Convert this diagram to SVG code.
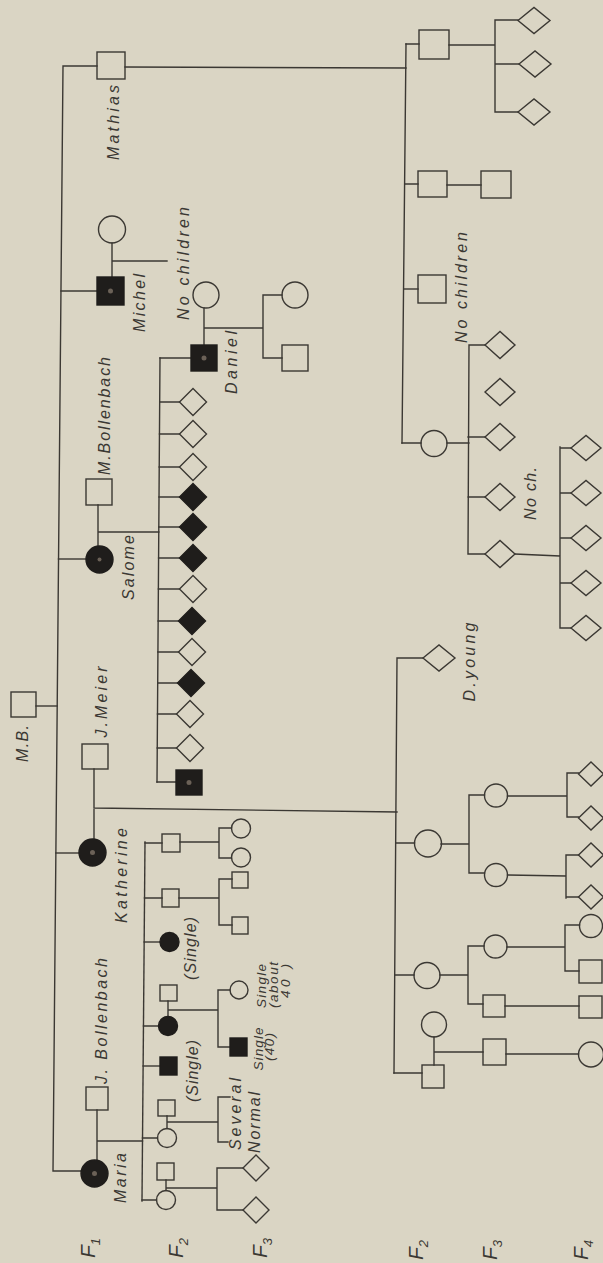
<svg xmlns="http://www.w3.org/2000/svg" xmlns:xlink="http://www.w3.org/1999/xlink" width="603" height="1263" viewBox="0 0 603 1263">
<style>
.ln{fill:none;stroke:#3b3833;stroke-width:1.4;stroke-linecap:square}
.o{fill:none;stroke:#3b3833;stroke-width:1.4}
.f{fill:#1f1d1b;stroke:#1f1d1b;stroke-width:1.4}
.dot{fill:#6b6157}
.t{font-family:"Liberation Sans",Arial,sans-serif;font-style:italic;font-size:16px;fill:#3b3833}
.s{font-size:13.5px}
.fl{font-family:"Liberation Sans",Arial,sans-serif;font-style:italic;font-size:21px;fill:#3b3833}
.sub{font-size:13px}
</style>
<defs>
<path id="dA" d="M-13.5,0L0,-13.5L13.5,0L0,13.5Z"/>
<path id="dB" d="M-16,0L0,-13L16,0L0,13Z"/>
<path id="dC" d="M-15,0L0,-13.5L15,0L0,13.5Z"/>
<path id="dD" d="M-15,0L0,-12.5L15,0L0,12.5Z"/>
<path id="dE" d="M-12.5,0L0,-12L12.5,0L0,12Z"/>
<path id="dF" d="M-13,0L0,-13L13,0L0,13Z"/>
</defs>
<rect width="603" height="1263" fill="#dad5c4"/>

<g id="connectors" class="ln">
<path d="M97,66H63L53,1171H81"/>
<path d="M61,291H97"/>
<path d="M58.5,559H86"/>
<path d="M36,706H57.2"/>
<path d="M55.9,853H79"/>
<path d="M125,67L406,68"/>
<path d="M406,44L402,443"/>
<path d="M406,44H419M449,45H495M495,20V112M495,20H518M495,64H519M495,112H518"/>
<path d="M405,184H418M447,185H481"/>
<path d="M404,289H418"/>
<path d="M402,443H421M447,443H469M469,345L468,554M469,345H485M468,437H485M468,497H485M468,554H485"/>
<path d="M515,554L560,556M560,447V628M560,448H571M560,493H571M560,538H571M560,583H571M560,628H571"/>
<path d="M112,243V277M112,261H167"/>
<path d="M98,505V546M98,532H158.8"/>
<path d="M160,358L157,782"/>
<path d="M160,358H191M159.7,402H179.5M159.5,434H179.5M159.2,467H179.5M159,497H179.5M158.8,527H179.5M158.6,558H179.5M158.4,589H179.5M158.1,621H178.5M157.9,652H178.5M157.7,683H177.5M157.5,714H176.5M157.2,748H176.5M157,782H176"/>
<path d="M204,308V345M204,328H263M263,295V358M263,295H282M263,358H282"/>
<path d="M94,769V839M94,808L397,812"/>
<path d="M397,658L394,1073M397,658H423"/>
<path d="M395.7,843H414.5M441,844H469M469,795V873M469,795H484.5M469,873H484.5"/>
<path d="M507.5,796H567M567,773V817M567,773H578.5M567,817H578.5"/>
<path d="M507.5,875L566,876M566,855V898M566,855H578.5M566,897H578.5"/>
<path d="M394.7,975H414M440,975H468M468,946V1004M468,946H484M468,1004H483"/>
<path d="M507,947H565M565,925V971M565,925H579.5M565,971H579"/>
<path d="M505,1006H579"/>
<path d="M394,1073H422M434,1037V1065M434,1052H483M506,1054H578.5"/>
<path d="M97,1110V1160M97,1141H142.5"/>
<path d="M145,842L142,1201"/>
<path d="M145,843H162M180,842H219M219,828V858M219,828H231.5M219,858H231.5"/>
<path d="M144.5,898H162M179,898H219M219,879V925M219,879H232M219,925H232"/>
<path d="M144.2,942H160"/>
<path d="M168,1001V1016.5M143.5,1026H158.5M168,1010H218M218,990V1047M218,990H230M218,1047H230"/>
<path d="M143.1,1066H160"/>
<path d="M167,1116V1128.5M142.5,1138H157.5M167,1122H218M230,1097H218V1142H228"/>
<path d="M166,1180V1190.5M142,1200H156.5M166,1188H217M217,1168V1210M217,1168H243M217,1210H243"/>
</g>

<g id="n_mb"><rect class="o" x="11" y="692" width="25" height="25"/></g>
<g id="n_mathias"><rect class="o" x="97" y="52" width="28" height="27"/></g>
<g id="n_michel"><rect class="f" x="97" y="277" width="27" height="28"/><circle class="dot" cx="110.5" cy="291" r="2.5"/></g>
<g id="n_michel_wife"><circle class="o" cx="112" cy="229.5" r="13.5"/></g>
<g id="n_salome"><circle class="f" cx="99.5" cy="559.5" r="13.5"/><circle class="dot" cx="99.5" cy="559.5" r="2"/></g>
<g id="n_m_bollenbach"><rect class="o" x="86" y="479" width="26" height="26"/></g>
<g id="n_katherine"><circle class="f" cx="92.5" cy="852.5" r="13.5"/><circle class="dot" cx="92.5" cy="852.5" r="2.5"/></g>
<g id="n_j_meier"><rect class="o" x="82" y="744" width="26" height="25"/></g>
<g id="n_maria"><circle class="f" cx="94.5" cy="1173.5" r="13.5"/><circle class="dot" cx="94.5" cy="1173.5" r="2.5"/></g>
<g id="n_j_bollenbach"><rect class="o" x="86" y="1087" width="22" height="23"/></g>

<g id="n_mc1"><rect class="o" x="419" y="30" width="30" height="29"/></g>
<g id="n_mc1_k1"><use href="#dB" x="534" y="20.5" class="o"/></g>
<g id="n_mc1_k2"><use href="#dB" x="535" y="64" class="o"/></g>
<g id="n_mc1_k3"><use href="#dB" x="534" y="112" class="o"/></g>
<g id="n_mc2"><rect class="o" x="418" y="171" width="29" height="26"/></g>
<g id="n_mc2_k"><rect class="o" x="481" y="171" width="30" height="27"/></g>
<g id="n_mc3"><rect class="o" x="418" y="275" width="28" height="28"/></g>
<g id="n_mc4"><circle class="o" cx="434" cy="443.5" r="13"/></g>
<g id="n_mc4_k1"><use href="#dC" x="500" y="345" class="o"/></g>
<g id="n_mc4_k2"><use href="#dC" x="500" y="392" class="o"/></g>
<g id="n_mc4_k3"><use href="#dC" x="500" y="437" class="o"/></g>
<g id="n_mc4_k4"><use href="#dC" x="500" y="497" class="o"/></g>
<g id="n_mc4_k5"><use href="#dC" x="500" y="554" class="o"/></g>
<g id="n_mc4_k5_1"><use href="#dD" x="586" y="448" class="o"/></g>
<g id="n_mc4_k5_2"><use href="#dD" x="586" y="493" class="o"/></g>
<g id="n_mc4_k5_3"><use href="#dD" x="586" y="538" class="o"/></g>
<g id="n_mc4_k5_4"><use href="#dD" x="586" y="583" class="o"/></g>
<g id="n_mc4_k5_5"><use href="#dD" x="586" y="628" class="o"/></g>

<g id="n_daniel"><rect class="f" x="191" y="345" width="26" height="26"/><circle class="dot" cx="204" cy="358" r="2.5"/></g>
<g id="n_daniel_wife"><circle class="o" cx="206" cy="295" r="13"/></g>
<g id="n_daniel_k1"><circle class="o" cx="295" cy="295" r="13"/></g>
<g id="n_daniel_k2"><rect class="o" x="282" y="345" width="26" height="26"/></g>

<g id="n_s2"><use href="#dA" x="193" y="402" class="o"/></g>
<g id="n_s3"><use href="#dA" x="193" y="434" class="o"/></g>
<g id="n_s4"><use href="#dA" x="193" y="467" class="o"/></g>
<g id="n_s5"><use href="#dA" x="193" y="497" class="f"/></g>
<g id="n_s6"><use href="#dA" x="193" y="527" class="f"/></g>
<g id="n_s7"><use href="#dA" x="193" y="558" class="f"/></g>
<g id="n_s8"><use href="#dA" x="193" y="589" class="o"/></g>
<g id="n_s9"><use href="#dA" x="192" y="621" class="f"/></g>
<g id="n_s10"><use href="#dA" x="192" y="652" class="o"/></g>
<g id="n_s11"><use href="#dA" x="191" y="683" class="f"/></g>
<g id="n_s12"><use href="#dA" x="190" y="714" class="o"/></g>
<g id="n_s13"><use href="#dA" x="190" y="748" class="o"/></g>
<g id="n_s14"><rect class="f" x="176" y="770" width="26" height="25"/><circle class="dot" cx="189" cy="782.5" r="2.5"/></g>

<g id="n_k1"><use href="#dB" x="439" y="658" class="o"/></g>
<g id="n_k2"><circle class="o" cx="428" cy="843.5" r="13.5"/></g>
<g id="n_k2_a"><circle class="o" cx="496" cy="795.5" r="11.5"/></g>
<g id="n_k2_a1"><use href="#dE" x="591" y="774" class="o"/></g>
<g id="n_k2_a2"><use href="#dE" x="591" y="818" class="o"/></g>
<g id="n_k2_b"><circle class="o" cx="496" cy="875" r="11.5"/></g>
<g id="n_k2_b1"><use href="#dE" x="591" y="855" class="o"/></g>
<g id="n_k2_b2"><use href="#dE" x="591" y="897" class="o"/></g>
<g id="n_k3"><circle class="o" cx="427" cy="975.5" r="13"/></g>
<g id="n_k3_a"><circle class="o" cx="495.5" cy="946.5" r="11.5"/></g>
<g id="n_k3_a1"><circle class="o" cx="591" cy="926" r="11.5"/></g>
<g id="n_k3_a2"><rect class="o" x="579" y="960" width="23" height="23"/></g>
<g id="n_k3_b"><rect class="o" x="483" y="995" width="22" height="22"/></g>
<g id="n_k3_b1"><rect class="o" x="579" y="996" width="23" height="22"/></g>
<g id="n_k4"><rect class="o" x="422" y="1065" width="22" height="23"/></g>
<g id="n_k4_wife"><circle class="o" cx="434" cy="1024.5" r="12.5"/></g>
<g id="n_k4_a"><rect class="o" x="483" y="1039" width="23" height="26"/></g>
<g id="n_k4_a1"><circle class="o" cx="591" cy="1054.5" r="12.5"/></g>

<g id="n_m1"><rect class="o" x="162" y="834" width="18" height="18"/></g>
<g id="n_m1_a"><circle class="o" cx="241" cy="828.5" r="9.5"/></g>
<g id="n_m1_b"><circle class="o" cx="241" cy="857.5" r="9.5"/></g>
<g id="n_m2"><rect class="o" x="162" y="889" width="17" height="18"/></g>
<g id="n_m2_a"><rect class="o" x="232" y="872" width="16" height="16"/></g>
<g id="n_m2_b"><rect class="o" x="232" y="917" width="16" height="17"/></g>
<g id="n_m3"><circle class="f" cx="169.5" cy="942" r="9.5"/></g>
<g id="n_m4_h"><rect class="o" x="160" y="985" width="17" height="16"/></g>
<g id="n_m4"><circle class="f" cx="168" cy="1026" r="9.5"/></g>
<g id="n_m4_a"><circle class="o" cx="239" cy="990" r="9"/></g>
<g id="n_m4_b"><rect class="f" x="230" y="1038" width="17" height="18"/></g>
<g id="n_m5"><rect class="f" x="160" y="1057" width="17" height="18"/></g>
<g id="n_m6_h"><rect class="o" x="158" y="1100" width="17" height="16"/></g>
<g id="n_m6"><circle class="o" cx="167" cy="1138" r="9.5"/></g>
<g id="n_m7_h"><rect class="o" x="157" y="1163" width="17" height="17"/></g>
<g id="n_m7"><circle class="o" cx="166" cy="1200" r="9.5"/></g>
<g id="n_m7_a"><use href="#dF" x="256" y="1168" class="o"/></g>
<g id="n_m7_b"><use href="#dF" x="256" y="1210" class="o"/></g>

<g id="labels">
<text class="t" text-anchor="middle" textLength="75" lengthAdjust="spacing" transform="translate(119,122.5) rotate(-90)">Mathias</text>
<text class="t" text-anchor="middle" textLength="58" lengthAdjust="spacing" transform="translate(145,303) rotate(-90)">Michel</text>
<text class="t" text-anchor="middle" textLength="113" lengthAdjust="spacing" transform="translate(189,263.5) rotate(-90)">No children</text>
<text class="t" text-anchor="middle" textLength="111" lengthAdjust="spacing" transform="translate(467,287.5) rotate(-90)">No children</text>
<text class="t" text-anchor="middle" textLength="118" lengthAdjust="spacing" transform="translate(110,416) rotate(-90)">M.Bollenbach</text>
<text class="t" text-anchor="middle" textLength="65" lengthAdjust="spacing" transform="translate(134,567.5) rotate(-90)">Salome</text>
<text class="t" text-anchor="middle" textLength="63" lengthAdjust="spacing" transform="translate(237,362.5) rotate(-90)">Daniel</text>
<text class="t" text-anchor="middle" textLength="37" lengthAdjust="spacing" transform="translate(28,743.5) rotate(-90)">M.B.</text>
<text class="t" text-anchor="middle" textLength="71" lengthAdjust="spacing" transform="translate(107,702) rotate(-90)">J.Meier</text>
<text class="t" text-anchor="middle" textLength="95" lengthAdjust="spacing" transform="translate(127,875.5) rotate(-90)">Katherine</text>
<text class="t" text-anchor="middle" textLength="63" lengthAdjust="spacing" transform="translate(196,948.5) rotate(-90)">(Single)</text>
<text class="t s" text-anchor="middle" textLength="44" lengthAdjust="spacing" transform="translate(266,986) rotate(-90)">Single</text>
<text class="t s" text-anchor="middle" textLength="46" lengthAdjust="spacing" transform="translate(278,985) rotate(-90)">(about</text>
<text class="t s" text-anchor="middle" textLength="34" lengthAdjust="spacing" transform="translate(290,981) rotate(-90)">40 )</text>
<text class="t s" text-anchor="middle" textLength="43" lengthAdjust="spacing" transform="translate(263,1049) rotate(-90)">Single</text>
<text class="t s" text-anchor="middle" textLength="28" lengthAdjust="spacing" transform="translate(274,1047) rotate(-90)">(40)</text>
<text class="t" text-anchor="middle" textLength="62" lengthAdjust="spacing" transform="translate(198,1071) rotate(-90)">(Single)</text>
<text class="t" text-anchor="middle" textLength="72" lengthAdjust="spacing" transform="translate(241,1114) rotate(-90)">Several</text>
<text class="t" text-anchor="middle" textLength="61" lengthAdjust="spacing" transform="translate(260,1122.5) rotate(-90)">Normal</text>
<text class="t" text-anchor="middle" textLength="126" lengthAdjust="spacing" transform="translate(107,1021) rotate(-90)">J. Bollenbach</text>
<text class="t" text-anchor="middle" textLength="50" lengthAdjust="spacing" transform="translate(126,1178) rotate(-90)">Maria</text>
<text class="t" text-anchor="middle" textLength="79" lengthAdjust="spacing" transform="translate(475,662) rotate(-90)">D.young</text>
<text class="t" text-anchor="middle" textLength="53" lengthAdjust="spacing" transform="translate(536,493.5) rotate(-90)">No ch.</text>
<text class="fl" transform="translate(95,1258) rotate(-90)">F<tspan class="sub" dy="5">1</tspan></text>
<text class="fl" transform="translate(183,1258) rotate(-90)">F<tspan class="sub" dy="5">2</tspan></text>
<text class="fl" transform="translate(267,1258) rotate(-90)">F<tspan class="sub" dy="5">3</tspan></text>
<text class="fl" transform="translate(423,1260) rotate(-90)">F<tspan class="sub" dy="5">2</tspan></text>
<text class="fl" transform="translate(497,1260) rotate(-90)">F<tspan class="sub" dy="5">3</tspan></text>
<text class="fl" transform="translate(588,1260) rotate(-90)">F<tspan class="sub" dy="5">4</tspan></text>
</g>
</svg>
